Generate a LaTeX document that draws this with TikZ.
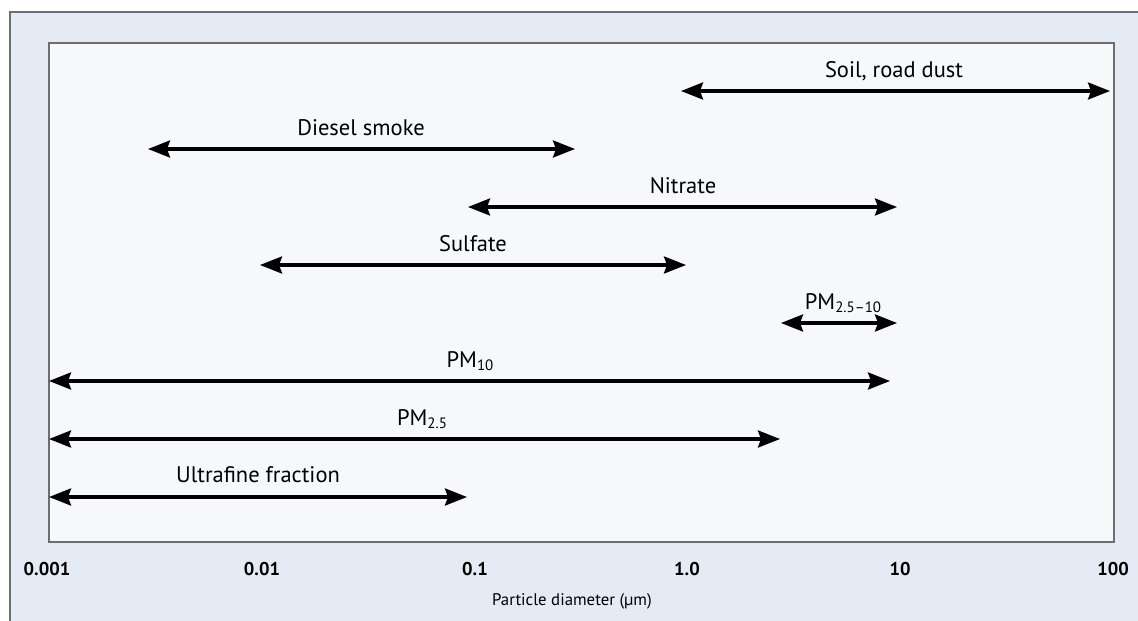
\documentclass[tikz,border=0pt]{standalone}
\usepackage{fontspec}
\setmainfont{PT Sans}
\usetikzlibrary{arrows.meta}
\definecolor{outerbg}{HTML}{E4EBF5}
\definecolor{innerbg}{HTML}{F7F8FC}
\definecolor{framegray}{HTML}{6E6E6E}
\newcommand\pmsub[1]{\raisebox{-0.35ex}{\fontsize{15}{15}\selectfont #1}}
\tikzset{
  rng/.style={line width=3.2pt, black, {Stealth[length=22pt,width=17pt,inset=3pt]}-{Stealth[length=22pt,width=17pt,inset=3pt]}},
  lbl/.style={anchor=base, inner sep=0pt, font=\fontsize{22.5}{23}\selectfont},
  tick/.style={anchor=base, inner sep=0pt, font=\fontsize{18.5}{19}\selectfont\bfseries},
  axt/.style={anchor=base, inner sep=0pt, font=\fontsize{16.8}{17}\selectfont}
}
\begin{document}
\begin{tikzpicture}[x=1pt,y=-1pt]
\useasboundingbox (0,0) rectangle (1138,621);
\fill[white] (0,0) rectangle (1138,621);
\draw[framegray, line width=1.6pt, fill=outerbg] (10,12) rectangle (1150,640);
\draw[framegray, line width=1.6pt, fill=innerbg] (49,43) rectangle (1114,542);
% ranges
\coordinate (soilA) at (681,91);   \coordinate (soilB) at (1110,91);
\coordinate (dieA) at (148,149);   \coordinate (dieB) at (575,149);
\coordinate (nitA) at (468,207);   \coordinate (nitB) at (897,207);
\coordinate (sulA) at (260,265);   \coordinate (sulB) at (686,265);
\coordinate (pmcA) at (781,323);   \coordinate (pmcB) at (897,323);
\coordinate (pmtA) at (49,381);    \coordinate (pmtB) at (890,381);
\coordinate (pmfA) at (49,439);    \coordinate (pmfB) at (780,439);
\coordinate (ufA) at (49,497);     \coordinate (ufB) at (467,497);
\draw[rng] (soilA) -- (soilB);
\draw[rng] (dieA) -- (dieB);
\draw[rng] (nitA) -- (nitB);
\draw[rng] (sulA) -- (sulB);
\draw[rng] (pmcA) -- (pmcB);
\draw[rng] (pmtA) -- (pmtB);
\draw[rng] (pmfA) -- (pmfB);
\draw[rng] (ufA) -- (ufB);
\node[lbl] (soil) at (894,77) {Soil, road dust};
\node[lbl] (die) at (361,135) {Diesel smoke};
\node[lbl] (nit) at (683,193) {Nitrate};
\node[lbl] (sul) at (473,251) {Sulfate};
\node[lbl] (pmc) at (843,309) {PM\pmsub{2.5–10}};
\node[lbl] (pmt) at (470,367) {PM\pmsub{10}};
\node[lbl] (pmf) at (422,425) {PM\pmsub{2.5}};
\node[lbl] (uf) at (258,482) {Ultrafine fraction};
% axis
\node[tick] (t1) at (47,575) {0.001};
\node[tick] (t2) at (262,575) {0.01};
\node[tick] (t3) at (475,575) {0.1};
\node[tick] (t4) at (687,575) {1.0};
\node[tick] (t5) at (900,575) {10};
\node[tick] (t6) at (1113,575) {100};
\node[axt] (axis) at (572,605) {Particle diameter (µm)};
\end{tikzpicture}
\end{document}
